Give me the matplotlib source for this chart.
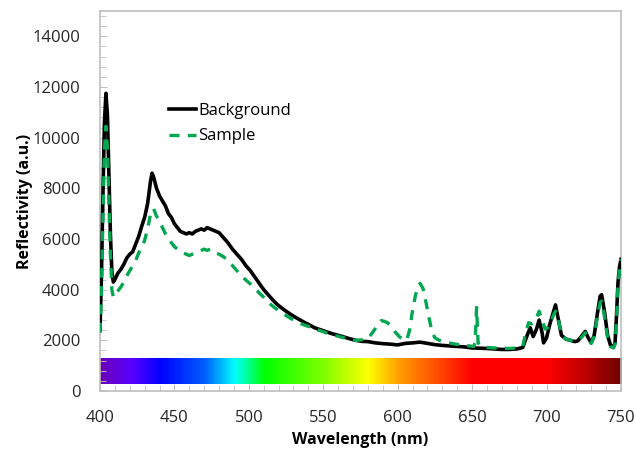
import numpy as np
import matplotlib
matplotlib.use('Agg')
import matplotlib.pyplot as plt
from matplotlib.colors import LinearSegmentedColormap
from matplotlib.ticker import MultipleLocator

plt.rcParams['font.family'] = ['Open Sans', 'DejaVu Sans']

# background spectrum (nm, a.u.)
wl_bg = [400, 401, 402, 403, 404, 405, 406, 407, 408, 409, 410, 412, 414, 416, 418,
         420, 422, 424, 426, 428, 430, 432, 434, 435, 436, 438, 440, 442, 444, 446,
         448, 450, 452, 454, 456, 458, 460, 462, 464, 466, 468, 470, 472, 474, 476,
         478, 480, 483, 486, 489, 492, 495, 498, 501, 504, 507, 510, 513, 516, 519,
         522, 525, 528, 531, 534, 537, 540, 544, 548, 552, 556, 560, 564, 568, 572,
         576, 580, 585, 590, 595, 600, 605, 610, 615, 620, 625, 630, 635, 640, 645,
         650, 655, 660, 665, 670, 675, 680, 684, 687, 689, 691, 693, 695, 697, 698,
         700, 702, 704, 706, 708, 710, 713, 716, 719, 721, 724, 726, 728, 730, 732,
         734, 736, 737, 739, 741, 743, 745, 746, 747, 748, 749, 750]
background = [2400, 4600, 7800, 10600, 11750, 10900, 8600, 6200, 4700, 4300, 4400, 4650, 4800, 5000, 5250,
              5400, 5500, 5800, 6100, 6500, 6850, 7400, 8300, 8600, 8450, 8000, 7700, 7500, 7300, 7000,
              6850, 6600, 6450, 6300, 6250, 6200, 6250, 6200, 6300, 6350, 6400, 6350, 6450, 6400, 6350,
              6300, 6250, 6050, 5850, 5600, 5400, 5200, 4950, 4750, 4500, 4250, 4000, 3800, 3600, 3420,
              3280, 3150, 3030, 2920, 2820, 2720, 2630, 2500, 2420, 2340, 2260, 2200, 2130, 2060, 2000,
              1960, 1950, 1900, 1870, 1850, 1820, 1880, 1900, 1930, 1880, 1830, 1800, 1780, 1760, 1740,
              1700, 1690, 1680, 1660, 1640, 1640, 1660, 1720, 2200, 2500, 2150, 2400, 2800, 2300, 1900,
              2100, 2600, 3000, 3400, 2800, 2200, 2050, 2000, 1950, 1980, 2200, 2350, 2100, 1900, 2200,
              3000, 3750, 3800, 3100, 2200, 1800, 1750, 1900, 3000, 4300, 4900, 5200]

# sample spectrum
wl_s = [400, 401, 402, 403, 404, 405, 406, 407, 408, 409, 410, 412, 414, 416, 418,
        420, 422, 424, 426, 428, 430, 432, 434, 436, 438, 440, 442, 444, 446, 448,
        450, 452, 454, 456, 458, 460, 462, 464, 466, 468, 470, 472, 474, 476, 478,
        480, 483, 486, 489, 492, 495, 498, 501, 504, 507, 510, 513, 516, 519, 522,
        525, 528, 531, 534, 537, 540, 544, 548, 552, 556, 560, 564, 568, 572, 576,
        580, 583, 586, 589, 591, 593, 595, 598, 601, 604, 606, 608, 610, 612, 614,
        615, 617, 619, 621, 623, 625, 628, 632, 636, 640, 644, 648, 651, 652, 653,
        654, 656, 660, 665, 670, 675, 680, 684, 686, 688, 690, 692, 694, 695, 697,
        699, 701, 703, 705, 706, 708, 710, 713, 716, 719, 721, 724, 726, 728, 730,
        732, 734, 736, 737, 739, 741, 743, 745, 746, 747, 748, 749, 750]
sample = [2300, 4000, 7000, 9500, 10450, 9600, 7400, 5400, 4000, 3700, 3800, 3950, 4100, 4300, 4550,
          4750, 4950, 5150, 5450, 5650, 5950, 6400, 7000, 7200, 6900, 6700, 6450, 6200, 6000, 5850,
          5700, 5600, 5500, 5450, 5400, 5350, 5400, 5450, 5500, 5550, 5600, 5550, 5600, 5550, 5450,
          5400, 5300, 5150, 4950, 4750, 4550, 4380, 4230, 4050, 3870, 3700, 3500, 3350, 3220, 3100,
          2980, 2870, 2770, 2680, 2610, 2550, 2450, 2380, 2300, 2230, 2160, 2100, 2030, 2000, 2020,
          2070, 2300, 2550, 2780, 2750, 2700, 2600, 2350, 2150, 2020, 2000, 2400, 3200, 3800, 4150,
          4250, 4050, 3500, 2900, 2350, 2100, 2000, 1930, 1880, 1840, 1800, 1780, 1760, 1900, 3300,
          1900, 1760, 1720, 1700, 1690, 1680, 1700, 1760, 2300, 2700, 2650, 2800, 3000, 3150, 2800,
          2450, 2500, 2750, 3050, 3150, 2800, 2200, 2050, 2000, 1950, 1980, 2150, 2300, 2050, 1880,
          2150, 2900, 3500, 3550, 2900, 2100, 1750, 1700, 1850, 2800, 4200, 4800, 5200]

# visible spectrum strip
strip_nm = [400, 420, 440, 470, 490, 510, 550, 580, 600, 630, 650, 700, 725, 750]
strip_col = ['#6a00b8', '#5a00ff', '#0000ff', '#0060ff', '#00ffff', '#00ff00', '#80ff00',
             '#ffff00', '#ffa000', '#ff4000', '#ff0000', '#ff0000', '#c00000', '#700000']
strip_lo, strip_hi = 280, 1300

fig = plt.figure(figsize=(6.36, 4.51), dpi=100)
ax = fig.add_axes([0.1572, 0.1330, 0.8192, 0.8426])

pos = [(n - strip_nm[0]) / (strip_nm[-1] - strip_nm[0]) for n in strip_nm]
cmap = LinearSegmentedColormap.from_list('vis', list(zip(pos, strip_col)))
ax.imshow(np.linspace(0, 1, 700)[None, :], cmap=cmap, aspect='auto',
          extent=[400, 750, strip_lo, strip_hi], zorder=1)

ax.plot(wl_bg, background, color='black', lw=2.6, label='Background', zorder=3)
ax.plot(wl_s, sample, color='#00a650', lw=2.4, ls=(0, (3, 2.5)), label='Sample', zorder=4)

ax.set_xlim(400, 750)
ax.set_ylim(0, 15000)
ax.set_yticks(range(0, 15000, 2000))
ax.xaxis.set_major_locator(MultipleLocator(50))
ax.xaxis.set_minor_locator(MultipleLocator(10))
ax.yaxis.set_minor_locator(MultipleLocator(400))
ax.tick_params(which='both', direction='in', color='#bfbfbf', labelsize=12, labelcolor='#262626')
ax.tick_params(which='major', length=5)
ax.tick_params(which='minor', length=4)
ax.tick_params(axis='y', pad=14)
ax.tick_params(axis='x', pad=14)
for s in ax.spines.values():
    s.set_color('#bfbfbf')
    s.set_linewidth(1.2)

ax.set_xlabel('Wavelength (nm)', fontsize=11.5, fontweight='bold', labelpad=4)
ax.set_ylabel('Reflectivity (a.u.)', fontsize=11.5, fontweight='bold', labelpad=0)

ax.legend(loc='upper left', bbox_to_anchor=(0.12, 0.775), frameon=False, fontsize=12,
          handlelength=1.6, handletextpad=0.15, labelspacing=0.55, borderaxespad=0)

fig.savefig('out.png', dpi=100)
